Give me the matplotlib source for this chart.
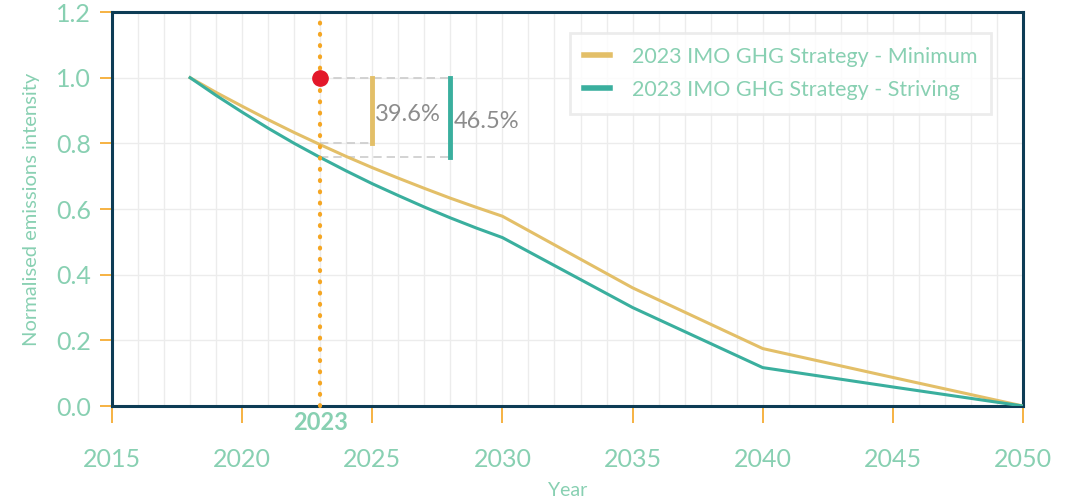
import matplotlib.pyplot as plt
from matplotlib.ticker import MultipleLocator

# 数据
years_min = [2018, 2019, 2020, 2021, 2022, 2023, 2024, 2025, 2026, 2027, 2028, 2029, 2030, 2035, 2040, 2045, 2050]
minimum = [1.0, 0.955, 0.913, 0.872, 0.833, 0.796, 0.760, 0.726, 0.694, 0.663, 0.633, 0.605, 0.578, 0.36, 0.175, 0.087, 0.0]
years_str = [2018, 2019, 2020, 2021, 2022, 2023, 2024, 2025, 2026, 2027, 2028, 2029, 2030, 2035, 2040, 2045, 2050]
striving = [1.0, 0.946, 0.895, 0.846, 0.800, 0.757, 0.716, 0.677, 0.641, 0.606, 0.573, 0.542, 0.513, 0.30, 0.117, 0.058, 0.0]

ref_year = 2023
ref_level = 1.0
min_2023 = 0.80
str_2023 = 0.757
bar_min_x = 2025
bar_str_x = 2028
pct_min = '39.6%'
pct_str = '46.5%'

# 颜色
c_min = '#e3bf68'
c_str = '#3aaf9e'
c_text = '#88d0b2'
c_tick = '#f5a623'
c_spine = '#0d3c55'

plt.rcParams['font.family'] = ['Lato', 'DejaVu Sans']

fig = plt.figure(figsize=(10.74, 5.01), dpi=100)
ax = fig.add_axes([0.1043, 0.1896, 0.8482, 0.7864])

ax.plot(years_min, minimum, color=c_min, lw=2.2, label='2023 IMO GHG Strategy - Minimum', zorder=3)
ax.plot(years_str, striving, color=c_str, lw=2.2, label='2023 IMO GHG Strategy - Striving', zorder=3)

# 2023 标记
ax.plot([ref_year, ref_year], [0, 1.19], color=c_tick, lw=3, linestyle=(0, (0.2, 2.5)),
        dash_capstyle='round', zorder=4, clip_on=False)
ax.plot([ref_year], [ref_level], 'o', color='#e3172a', markersize=11, zorder=5)

ax.plot([ref_year, bar_str_x], [ref_level, ref_level], color='#cccccc', lw=1.2, ls=(0, (5, 3)), zorder=2)
ax.plot([ref_year, bar_min_x], [min_2023, min_2023], color='#cccccc', lw=1.2, ls=(0, (5, 3)), zorder=2)
ax.plot([ref_year, bar_str_x], [str_2023, str_2023], color='#cccccc', lw=1.2, ls=(0, (5, 3)), zorder=2)
ax.plot([bar_min_x, bar_min_x], [min_2023, ref_level], color=c_min, lw=3.5, zorder=3)
ax.plot([bar_str_x, bar_str_x], [str_2023, ref_level], color=c_str, lw=3.5, zorder=3)
ax.text(bar_min_x + 0.12, 0.887, pct_min, color='#8c8c8c', fontsize=17, va='center', ha='left')
ax.text(bar_str_x + 0.12, 0.868, pct_str, color='#8c8c8c', fontsize=17, va='center', ha='left')

ax.set_xlim(2015, 2050)
ax.set_ylim(0, 1.2)
ax.xaxis.set_major_locator(MultipleLocator(5))
ax.xaxis.set_minor_locator(MultipleLocator(1))
ax.yaxis.set_major_locator(MultipleLocator(0.2))
ax.yaxis.set_major_formatter(plt.FuncFormatter(lambda v, p: f'{v:.1f}'))
ax.grid(True, which='both', axis='x', color='#ececec', lw=1)
ax.grid(True, which='major', axis='y', color='#ececec', lw=1)
ax.set_axisbelow(True)

ax.tick_params(axis='x', which='major', length=12, width=1.2, color=c_tick, pad=18,
               labelsize=18, labelcolor=c_text)
ax.tick_params(axis='x', which='minor', length=0)
ax.tick_params(axis='y', length=9, width=1.2, color=c_tick, pad=6, labelsize=18, labelcolor=c_text)

for s in ax.spines.values():
    s.set_color(c_spine)
    s.set_linewidth(2.2)

ax.text(ref_year, -0.05, str(ref_year), color=c_text, fontsize=17, fontweight='bold',
        ha='center', va='center')

ax.set_ylabel('Normalised emissions intensity', color=c_text, fontsize=14.5, labelpad=12)
ax.set_xlabel('Year', color=c_text, fontsize=14, labelpad=8)

leg = ax.legend(loc='upper right', bbox_to_anchor=(0.965, 0.947), borderaxespad=0,
                fontsize=15.5, frameon=True, fancybox=False, labelcolor=c_text,
                handlelength=1.2, borderpad=0.65, labelspacing=0.6, handletextpad=1.0)
leg.get_frame().set_edgecolor('#e8e8e8')
leg.get_frame().set_linewidth(2)
for l in leg.get_lines():
    l.set_linewidth(4)

plt.savefig('out.png', dpi=100)
